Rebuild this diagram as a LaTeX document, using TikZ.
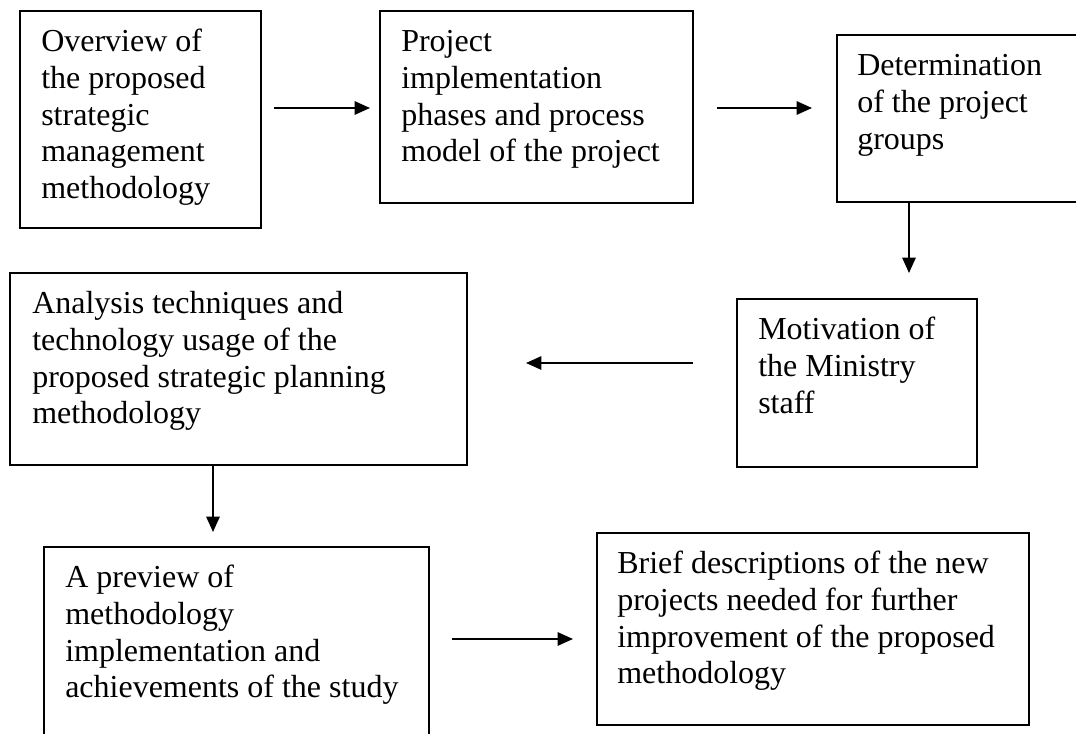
\documentclass[tikz,border=0pt]{standalone}
\usepackage{fontspec}
\setmainfont{Liberation Serif}
\usetikzlibrary{arrows.meta,fit}

\tikzset{
  box/.style={draw=black, line width=1.3pt, inner sep=0pt, fill=none},
  txt/.style={anchor=base west, inner sep=0pt, align=flush left, text width=12cm,
              font=\fontsize{24pt}{27.5pt}\selectfont},
  arr/.style={line width=1.3pt, -{Triangle[length=11.5pt,width=10pt]}}
}

\begin{document}
\begin{tikzpicture}[x=0.75pt,y=-0.75pt]
  \useasboundingbox (0,0) rectangle (1076,734);
  \fill[white] (0,0) rectangle (1076,734);
  \clip (0,0) rectangle (1076,734);

  % boxes
  \node[box, fit={(20,11) (261,228)}]   (b1) {};
  \node[box, fit={(380,11) (693,203)}]  (b2) {};
  \node[box, fit={(837,35) (1100,202)}] (b3) {};
  \node[box, fit={(737,299) (977,467)}] (b4) {};
  \node[box, fit={(10,273) (467,465)}]  (b5) {};
  \node[box, fit={(44,547) (429,770)}]  (b6) {};
  \node[box, fit={(597,533) (1029,725)}] (b7) {};

  % texts
  \node[txt] (t1) at (41,52)  {Overview of\\the proposed\\strategic\\management\\methodology};
  \node[txt] (t2) at (401,52) {Project\\implementation\\phases and process\\model of the project};
  \node[txt] (t3) at (857,76) {Determination\\of the project\\groups};
  \node[txt] (t4) at (758,340) {Motivation of\\the Ministry\\staff};
  \node[txt] (t5) at (32,314) {Analysis techniques and\\technology usage of the\\proposed strategic planning\\methodology};
  \node[txt] (t6) at (65,588) {A preview of\\methodology\\implementation and\\achievements of the study};
  \node[txt] (t7) at (617,574) {Brief descriptions of the new\\projects needed for further\\improvement of the proposed\\methodology};

  % arrow end points
  \coordinate (a1s) at (274,108);  \coordinate (a1e) at (370,108);
  \coordinate (a2s) at (717,108);  \coordinate (a2e) at (812,108);
  \coordinate (a3e) at (909,273);
  \coordinate (a4s) at (693,363);  \coordinate (a4e) at (526,363);
  \coordinate (a5e) at (213,532);
  \coordinate (a6s) at (452,639);  \coordinate (a6e) at (573,639);

  % connectors
  \draw[arr] (a1s) -- (a1e);
  \draw[arr] (a2s) -- (a2e);
  \draw[arr] (b3.south -| a3e) -- (a3e);
  \draw[arr] (a4s) -- (a4e);
  \draw[arr] (b5.south -| a5e) -- (a5e);
  \draw[arr] (a6s) -- (a6e);
\end{tikzpicture}
\end{document}
